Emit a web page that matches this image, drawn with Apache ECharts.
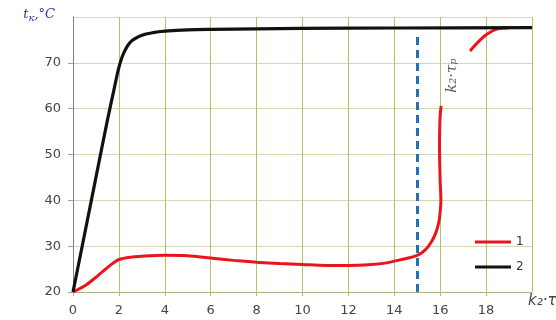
<!DOCTYPE html>
<html><head><meta charset="utf-8">
<script src="https://cdn.jsdelivr.net/npm/echarts@6/dist/echarts.min.js"></script>
<style>html,body{margin:0;padding:0;background:#fff}#c{width:556px;height:320px}</style>
</head><body><div id="c"></div>
<script>
const xTicks = [0,2,4,6,8,10,12,14,16,18,20];
const yTicks = [20,30,40,50,60,70,80];
const series1Name = '1';
const series2Name = '2';
// curve 1 (red): [k2*tau, t]
const series1 = [[0,20],[0.5,21.3],[0.9,22.8],[1.3,24.5],[1.75,26.3],[2,27.1],[2.5,27.6],[3,27.8],[4,28],[5,27.9],[6,27.4],[7,26.9],[8,26.5],[9,26.2],[10,26],[11,25.8],[12,25.8],[13,26],[13.6,26.3],[14.25,27],[15,28],[15.35,29.2],[15.6,30.8],[15.8,32.8],[15.93,35],[16.0,37.5],[16.03,40],[16.0,44],[15.98,48],[15.97,52],[15.98,56],[16.0,58.5],[16.04,60.6],[16.7,'-'],[17.3,72.6],[17.7,74.8],[18.05,76.3],[18.5,77.4],[19,77.65]];
// curve 2 (black)
const series2 = [[0,20],[0.5,32.5],[1,45],[1.5,57.5],[1.8,64.5],[2,69],[2.2,72],[2.5,74.5],[3,76],[3.5,76.6],[4,76.9],[5,77.2],[6,77.3],[8,77.4],[10,77.5],[14,77.6],[20,77.7]];
const markX = 15;
const markRange = [20,76];
const annotText = 'k₂·τₚ';
const annotPos = [16.5, 67.2];
const xName = 'k₂·τₚ';

const chart = echarts.init(document.getElementById('c'), null, {renderer:'canvas'});
chart.setOption({
  animation:false,
  backgroundColor:'#fff',
  grid:{left:73,right:24,top:17,bottom:28,containLabel:false,outerBoundsMode:'none'},
  legend:{
    data:[{name:series1Name,icon:'rect'},{name:series2Name,icon:'rect'}],
    orient:'vertical', left:470, top:231,
    itemWidth:36, itemHeight:3, itemGap:13,
    textStyle:{color:'#333',fontSize:12,fontFamily:'DejaVu Sans'}
  },
  xAxis:{
    type:'value', min:xTicks[0], max:xTicks[xTicks.length-1], interval:2,
    name:xName, nameLocation:'end', nameGap:-4,
    nameTextStyle:{color:'#444',fontSize:15,fontStyle:'italic',fontFamily:'DejaVu Sans',verticalAlign:'top',align:'left',padding:[2,0,0,0]},
    axisLine:{show:true,lineStyle:{color:'#a8b090',width:1}},
    axisTick:{show:true,length:4,lineStyle:{color:'#a6c96c'}},
    axisLabel:{margin:12,color:'#444',fontSize:13,fontFamily:'DejaVu Sans',showMaxLabel:false,
      formatter:v=> v===20?'':String(v)},
    splitLine:{show:true,lineStyle:{color:'#a6c96c',width:1}}
  },
  yAxis:{
    type:'value', min:yTicks[0], max:yTicks[yTicks.length-1], interval:10,
    name:'{a|t}{s|к}{a|,°C}', nameLocation:'end', nameGap:2,
    nameTextStyle:{align:'right',verticalAlign:'middle',padding:[0,18,0,0],
      rich:{a:{color:'#34349a',fontSize:13,fontStyle:'italic',fontFamily:'DejaVu Serif'},
            s:{color:'#34349a',fontSize:10,fontStyle:'italic',fontFamily:'DejaVu Serif',verticalAlign:'bottom',padding:[6,0,0,0]}}},
    axisLine:{show:true,lineStyle:{color:'#808080',width:1}},
    axisTick:{show:true,length:5,lineStyle:{color:'#a0a0a0'}},
    axisLabel:{margin:12,color:'#444',fontSize:13,fontFamily:'DejaVu Sans',showMaxLabel:false,
      formatter:v=> v===80?'':String(v)},
    splitLine:{show:true,lineStyle:{color:'#d0d9b6',width:1}}
  },
  series:[
    {name:series1Name,type:'line',data:series1,symbol:'none',smooth:0.3,
     lineStyle:{color:'#e8151b',width:3},itemStyle:{color:'#e8151b'},z:3,
     markLine:{silent:true,symbol:'none',label:{show:false},
       lineStyle:{color:'#2470b6',width:3,type:[8,5]},
       data:[[{coord:[markX,markRange[0]]},{coord:[markX,markRange[1]]}]]}},
    {name:series2Name,type:'line',data:series2,symbol:'none',smooth:0.3,
     lineStyle:{color:'#111',width:3.2},itemStyle:{color:'#111'},z:4},
    {name:'annot',type:'scatter',data:[annotPos],symbolSize:0,silent:true,
     label:{show:true,formatter:annotText,rotate:90,position:'inside',
       color:'#333',fontSize:15,fontStyle:'italic',fontFamily:'DejaVu Serif'}}
  ]
});
</script></body></html>
